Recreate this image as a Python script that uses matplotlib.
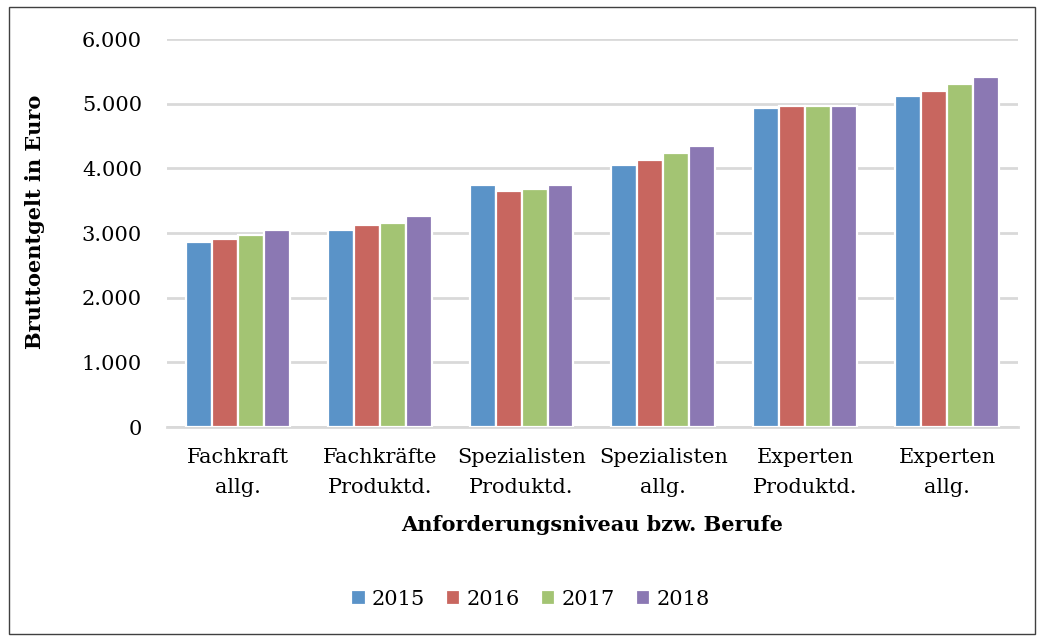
import numpy as np
import matplotlib.pyplot as plt
from matplotlib.patches import Rectangle
from matplotlib.ticker import FuncFormatter

plt.rcParams['font.family'] = ['DejaVu Serif']

categories = ['Fachkraft\nallg.', 'Fachkräfte\nProduktd.', 'Spezialisten\nProduktd.',
              'Spezialisten\nallg.', 'Experten\nProduktd.', 'Experten\nallg.']
years = ['2015', '2016', '2017', '2018']
v2015 = [2860, 3045, 3750, 4045, 4935, 5120]
v2016 = [2900, 3125, 3645, 4125, 4970, 5190]
v2017 = [2975, 3160, 3675, 4230, 4970, 5305]
v2018 = [3045, 3265, 3750, 4345, 4970, 5415]
series = [v2015, v2016, v2017, v2018]
colors = ['#5a93c8', '#c8665f', '#a3c473', '#8b78b3']

fig = plt.figure(figsize=(10.44, 6.4), dpi=100)
ax = fig.add_axes([0.160, 0.3328, 0.815, 0.6062])

x = np.arange(len(categories))
step = 0.183
for i, (vals, c, yr) in enumerate(zip(series, colors, years)):
    ax.bar(x + (i - 1.5) * step, vals, width=step, color=c,
           edgecolor='white', linewidth=1.6, label=yr, zorder=3)

ax.set_xlim(-0.5, len(categories) - 0.5)
ax.set_ylim(0, 6000)
ax.set_yticks(range(0, 6001, 1000))
ax.yaxis.set_major_formatter(FuncFormatter(lambda v, p: f'{int(v):,}'.replace(',', '.')))
ax.set_xticks(x)
ax.set_xticklabels(categories, fontsize=15, linespacing=1.75)
ax.tick_params(axis='y', labelsize=15, length=0, pad=18)
ax.tick_params(axis='x', length=0, pad=15)
ax.grid(axis='y', color='#d9d9d9', linewidth=2, zorder=0)
for s in ['top', 'right', 'left']:
    ax.spines[s].set_visible(False)
ax.spines['bottom'].set_color('#d9d9d9')
ax.spines['bottom'].set_linewidth(2)

ax.set_ylabel('Bruttoentgelt in Euro', fontsize=15, fontweight='bold')
ax.yaxis.set_label_coords(-0.143, 0.528)
ax.set_xlabel('Anforderungsniveau bzw. Berufe', fontsize=15, fontweight='bold', labelpad=13)

fig.legend(loc='center', bbox_to_anchor=(0.508, 0.064), ncol=4, frameon=False,
           fontsize=15, handlelength=0.7, handleheight=0.7, handletextpad=0.3,
           columnspacing=1.0)

fig.patches.append(Rectangle((9 / 1044, 6 / 640), 1026 / 1044, 627 / 640,
                             transform=fig.transFigure, fill=False,
                             edgecolor='#404040', linewidth=1))

fig.savefig('out.png', dpi=100)
